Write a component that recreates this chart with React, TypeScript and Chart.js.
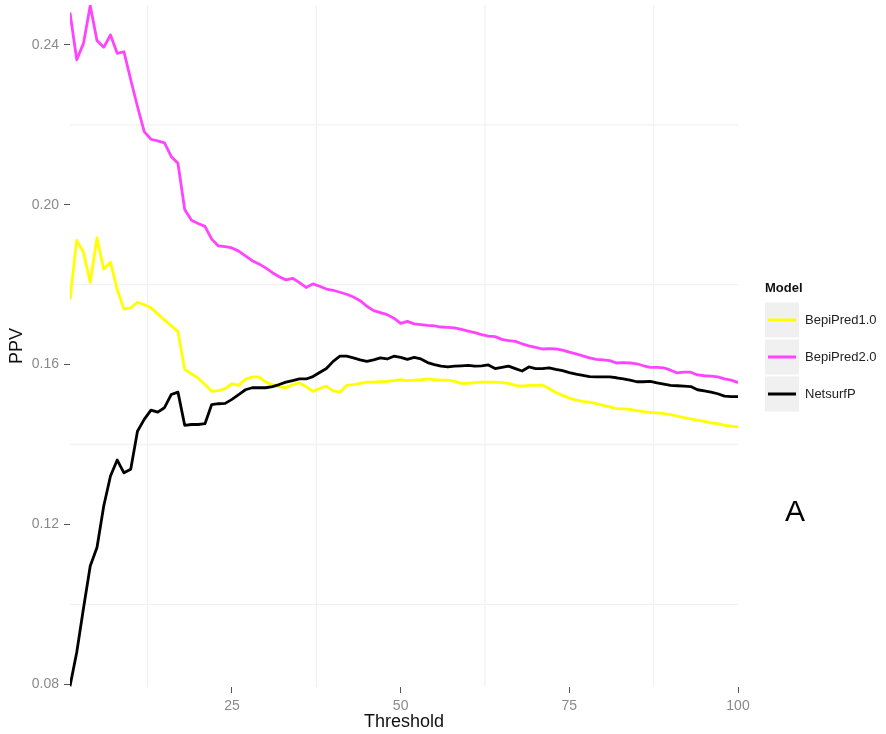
import React, { useEffect, useRef } from "react";
import { Chart, registerables } from "chart.js";

Chart.register(...registerables);

const thresholds = [
  1, 2, 3, 4, 5, 6, 7, 8, 9, 10, 11, 12, 13, 14, 15, 16, 17, 18, 19, 20,
  21, 22, 23, 24, 25, 26, 27, 28, 29, 30, 31, 32, 33, 34, 35, 36, 37, 38, 39, 40,
  41, 42, 43, 44, 45, 46, 47, 48, 49, 50, 51, 52, 53, 54, 55, 56, 57, 58, 59, 60,
  61, 62, 63, 64, 65, 66, 67, 68, 69, 70, 71, 72, 73, 74, 75, 76, 77, 78, 79, 80,
  81, 82, 83, 84, 85, 86, 87, 88, 89, 90, 91, 92, 93, 94, 95, 96, 97, 98, 99, 100,
];

const bepipred1 = [
  0.1763, 0.1911, 0.1881, 0.1806, 0.1917, 0.1839, 0.1856, 0.1788, 0.1739, 0.1742,
  0.1756, 0.1750, 0.1742, 0.1727, 0.1712, 0.1697, 0.1683, 0.1588, 0.1577, 0.1566,
  0.1550, 0.1533, 0.1535, 0.1540, 0.1552, 0.1548, 0.1563, 0.1569, 0.1569, 0.1556,
  0.1550, 0.1545, 0.1542, 0.1550, 0.1554, 0.1545, 0.1533, 0.1540, 0.1546, 0.1534,
  0.1531, 0.1548, 0.1550, 0.1553, 0.1556, 0.1556, 0.1557, 0.1558, 0.1560, 0.1562,
  0.1560, 0.1561, 0.1562, 0.1564, 0.1562, 0.1561, 0.1561, 0.1558, 0.1553, 0.1553,
  0.1555, 0.1556, 0.1556, 0.1556, 0.1555, 0.1553, 0.1548, 0.1546, 0.1548, 0.1548,
  0.1549, 0.1540, 0.1530, 0.1523, 0.1516, 0.1511, 0.1508, 0.1506, 0.1502, 0.1498,
  0.1494, 0.1490, 0.1489, 0.1488, 0.1485, 0.1482, 0.1480, 0.1479, 0.1477, 0.1475,
  0.1471, 0.1467, 0.1464, 0.1461, 0.1458, 0.1454, 0.1452, 0.1448, 0.1446, 0.1444,
];

const bepipred2 = [
  0.2481, 0.2363, 0.2404, 0.2498, 0.2411, 0.2394, 0.2425, 0.2379, 0.2383, 0.2313,
  0.2246, 0.2183, 0.2164, 0.2160, 0.2155, 0.2121, 0.2104, 0.1988, 0.1961, 0.1953,
  0.1946, 0.1914, 0.1897, 0.1895, 0.1892, 0.1884, 0.1872, 0.1860, 0.1852, 0.1842,
  0.1830, 0.1820, 0.1812, 0.1816, 0.1805, 0.1793, 0.1802, 0.1796, 0.1789, 0.1786,
  0.1781, 0.1776, 0.1769, 0.1760, 0.1746, 0.1735, 0.1730, 0.1725, 0.1716, 0.1703,
  0.1708, 0.1702, 0.1700, 0.1698, 0.1697, 0.1694, 0.1693, 0.1692, 0.1688, 0.1684,
  0.1680, 0.1675, 0.1671, 0.1670, 0.1663, 0.1660, 0.1658, 0.1652, 0.1647, 0.1643,
  0.1639, 0.1640, 0.1639, 0.1636, 0.1631, 0.1627, 0.1622, 0.1617, 0.1613, 0.1612,
  0.1610, 0.1604, 0.1605, 0.1604, 0.1602, 0.1597, 0.1593, 0.1593, 0.1592, 0.1586,
  0.1579, 0.1581, 0.1581, 0.1574, 0.1572, 0.1571, 0.1569, 0.1564, 0.1561, 0.1555,
];

const netsurfp = [
  0.0795, 0.0880, 0.0990, 0.1096, 0.1142, 0.1246, 0.1321, 0.1361, 0.1329, 0.1338,
  0.1433, 0.1463, 0.1486, 0.1481, 0.1492, 0.1525, 0.1531, 0.1448, 0.1450, 0.1450,
  0.1452, 0.1500, 0.1502, 0.1503, 0.1513, 0.1525, 0.1537, 0.1542, 0.1542, 0.1542,
  0.1545, 0.1550, 0.1556, 0.1560, 0.1564, 0.1564, 0.1570, 0.1580, 0.1590, 0.1608,
  0.1621, 0.1621, 0.1617, 0.1612, 0.1608, 0.1612, 0.1617, 0.1614, 0.1621, 0.1618,
  0.1613, 0.1618, 0.1614, 0.1605, 0.1600, 0.1596, 0.1594, 0.1596, 0.1597, 0.1598,
  0.1596, 0.1597, 0.1599, 0.1590, 0.1593, 0.1596, 0.1590, 0.1584, 0.1594, 0.1590,
  0.1590, 0.1592, 0.1588, 0.1585, 0.1580, 0.1576, 0.1573, 0.1570, 0.1569, 0.1569,
  0.1569, 0.1567, 0.1564, 0.1561, 0.1557, 0.1557, 0.1558, 0.1554, 0.1551, 0.1548,
  0.1547, 0.1546, 0.1545, 0.1537, 0.1534, 0.1531, 0.1527, 0.1521, 0.1520, 0.1520,
];

const xTicks = [25, 50, 75, 100];
const yTicks = [0.08, 0.12, 0.16, 0.2, 0.24];
const xMinorGrid = [12.5, 37.5, 62.5, 87.5];
const yMinorGrid = [0.1, 0.14, 0.18, 0.22];

const modelNames = ["BepiPred1.0", "BepiPred2.0", "NetsurfP"];
const modelColors = ["#ffff00", "#ff44ff", "#000000"];
const seriesValues = [bepipred1, bepipred2, netsurfp];

const FONT = "'Liberation Sans', Arial, Helvetica, sans-serif";

const minorGridPlugin = {
  id: "minorGrid",
  beforeDatasetsDraw(chart: any) {
    const { ctx, chartArea, scales } = chart;
    ctx.save();
    ctx.strokeStyle = "#f2f2f2";
    ctx.lineWidth = 1.3;
    xMinorGrid.forEach((v) => {
      const px = scales.x.getPixelForValue(v);
      ctx.beginPath();
      ctx.moveTo(px, chartArea.top);
      ctx.lineTo(px, chartArea.bottom);
      ctx.stroke();
    });
    yMinorGrid.forEach((v) => {
      const py = scales.y.getPixelForValue(v);
      ctx.beginPath();
      ctx.moveTo(chartArea.left, py);
      ctx.lineTo(chartArea.right, py);
      ctx.stroke();
    });
    ctx.restore();
  },
};

const legendPlugin = {
  id: "ggLegend",
  afterDraw(chart: any) {
    const { ctx } = chart;
    ctx.save();
    ctx.fillStyle = "#111";
    ctx.font = `bold 13px ${FONT}`;
    ctx.textAlign = "left";
    ctx.textBaseline = "middle";
    ctx.fillText("Model", 765, 288);
    const rowH = 37;
    const y0 = 320;
    modelNames.forEach((name, i) => {
      const cy = y0 + i * rowH;
      ctx.fillStyle = "#f0f0f0";
      ctx.fillRect(765, cy - 17.5, 34, 35);
      ctx.strokeStyle = modelColors[i];
      ctx.lineWidth = 3;
      ctx.beginPath();
      ctx.moveTo(768, cy);
      ctx.lineTo(796, cy);
      ctx.stroke();
      ctx.fillStyle = "#222";
      ctx.font = `13px ${FONT}`;
      ctx.fillText(name, 805, cy);
    });
    ctx.fillStyle = "#000";
    ctx.font = `30px ${FONT}`;
    ctx.textAlign = "center";
    ctx.fillText("A", 795, 513);
    ctx.restore();
  },
};

export default function App() {
  const ref = useRef<HTMLCanvasElement | null>(null);

  useEffect(() => {
    if (!ref.current) return;
    const datasets = modelNames.map((name, i) => ({
      label: name,
      data: thresholds.map((t, j) => ({ x: t, y: seriesValues[i][j] })),
      borderColor: modelColors[i],
      backgroundColor: modelColors[i],
      borderWidth: 2.8,
      pointRadius: 0,
      tension: 0,
      fill: false,
      borderJoinStyle: "round" as const,
      order: i === 2 ? 0 : i === 1 ? 1 : 2,
    }));
    const chart = new Chart(ref.current, {
      type: "line",
      data: { datasets },
      plugins: [minorGridPlugin, legendPlugin],
      options: {
        animation: false,
        responsive: false,
        maintainAspectRatio: false,
        layout: { padding: { left: 0, top: 5, right: 148, bottom: 1 } },
        plugins: { legend: { display: false }, tooltip: { enabled: false } },
        scales: {
          x: {
            type: "linear",
            min: 1,
            max: 100,
            afterBuildTicks: (s: any) => {
              s.ticks = xTicks.map((v) => ({ value: v }));
            },
            afterFit: (s: any) => {
              s.height = 46;
              s.paddingLeft = 0;
              s.paddingRight = 0;
            },
            border: { display: false },
            grid: {
              drawOnChartArea: false,
              drawTicks: true,
              tickLength: 6,
              tickColor: "#555",
              tickWidth: 1,
            },
            ticks: {
              color: "#8a8a8a",
              font: { family: FONT, size: 14 },
              padding: 5,
              maxRotation: 0,
              autoSkip: false,
            },
            title: {
              display: true,
              text: "Threshold",
              color: "#111",
              font: { family: FONT, size: 18 },
              padding: { top: 0, bottom: 0 },
            },
          },
          y: {
            type: "linear",
            min: 0.0793,
            max: 0.25,
            afterBuildTicks: (s: any) => {
              s.ticks = yTicks.map((v) => ({ value: v }));
            },
            afterFit: (s: any) => {
              s.width = 70;
              s.paddingTop = 0;
              s.paddingBottom = 0;
            },
            border: { display: false },
            grid: {
              drawOnChartArea: false,
              drawTicks: true,
              tickLength: 6,
              tickColor: "#555",
              tickWidth: 1,
            },
            ticks: {
              color: "#8a8a8a",
              font: { family: FONT, size: 14 },
              padding: 5,
              autoSkip: false,
              callback: (v: any) => Number(v).toFixed(2),
            },
            title: {
              display: true,
              text: "PPV",
              color: "#111",
              font: { family: FONT, size: 18 },
              padding: { top: 6, bottom: 0 },
            },
          },
        },
      },
    });
    return () => chart.destroy();
  }, []);

  return (
    <div style={{ position: "absolute", left: 0, top: 0, width: 886, height: 734, background: "#fff" }}>
      <canvas ref={ref} width={886} height={734} style={{ display: "block" }} />
    </div>
  );
}
